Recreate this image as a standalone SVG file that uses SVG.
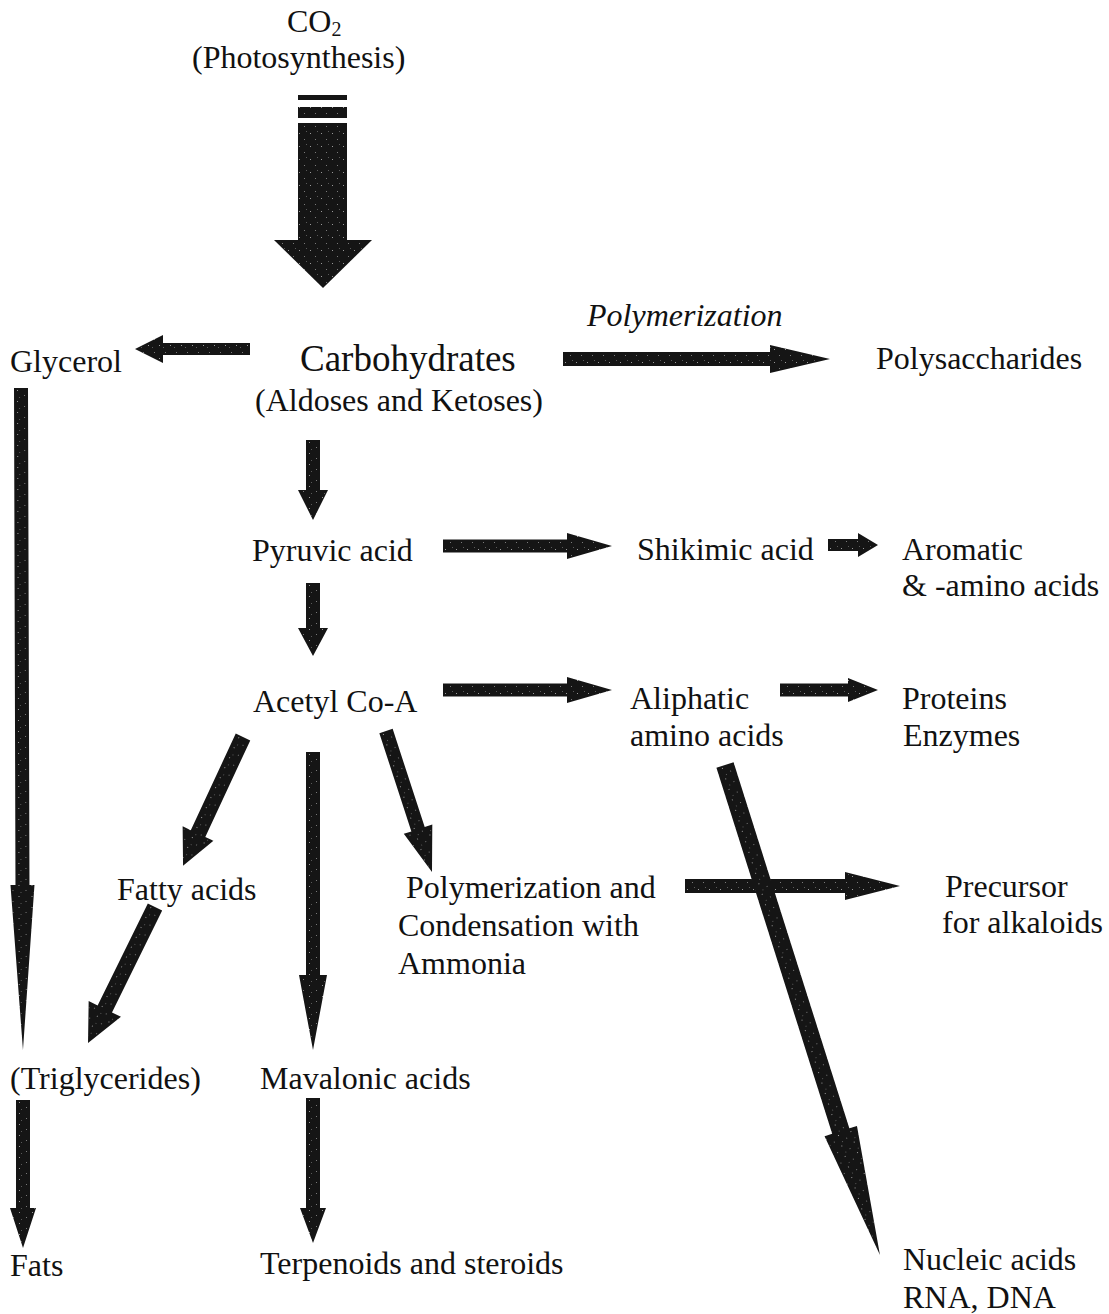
<svg xmlns="http://www.w3.org/2000/svg" width="1109" height="1314" viewBox="0 0 1109 1314">
<style>
  text { font-family: "Liberation Serif", "Times New Roman", serif; font-size: 32px; fill: #111; }
  .big { font-size: 37px; }
  .it { font-style: italic; }
  .arr { fill: url(#grain); }
</style>
<defs>
  <pattern id="grain" patternUnits="userSpaceOnUse" width="11" height="13">
    <rect width="11" height="13" fill="#151515"/>
    <rect x="2" y="3" width="1" height="1" fill="#9a9a9a"/>
    <rect x="7" y="9" width="1" height="1" fill="#7a7a7a"/>
    <rect x="9" y="1" width="1" height="1" fill="#5a5a5a"/>
  </pattern>
</defs>
<rect width="1109" height="1314" fill="#fff"/>

<g id="connectors">
  <g id="arrow-co2">
    <rect class="arr" x="298" y="95" width="49" height="5"/>
    <rect class="arr" x="298" y="107" width="49" height="11"/>
    <rect class="arr" x="298" y="123" width="49" height="118"/>
    <polygon class="arr" points="274,240 372,240 323,288"/>
  </g>
  <!-- Carbohydrates -> Glycerol -->
  <path class="arr" transform="translate(250,349) rotate(180)" d="M0,-6 L87,-6 L87,-14 L115,0 L87,14 L87,6 L0,6 Z"/>
  <!-- Carbohydrates -> Polysaccharides -->
  <path class="arr" transform="translate(563,359)" d="M0,-7 L207,-7 L207,-14 L267,0 L207,14 L207,7 L0,7 Z"/>
  <!-- Carbohydrates -> Pyruvic -->
  <path class="arr" transform="translate(313,440) rotate(90)" d="M0,-7 L50,-7 L50,-15 L80,0 L50,15 L50,7 L0,7 Z"/>
  <!-- Pyruvic -> Shikimic -->
  <path class="arr" transform="translate(443,546)" d="M0,-6.5 L124,-6.5 L124,-13 L169,0 L124,13 L124,6.5 L0,6.5 Z"/>
  <!-- Shikimic -> Aromatic -->
  <path class="arr" transform="translate(828,545)" d="M0,-6 L30,-6 L30,-12 L50,0 L30,12 L30,6 L0,6 Z"/>
  <!-- Pyruvic -> Acetyl -->
  <path class="arr" transform="translate(313,583) rotate(90)" d="M0,-7 L45,-7 L45,-15 L73,0 L45,15 L45,7 L0,7 Z"/>
  <!-- Acetyl -> Aliphatic -->
  <path class="arr" transform="translate(443,690)" d="M0,-6.5 L124,-6.5 L124,-13 L169,0 L124,13 L124,6.5 L0,6.5 Z"/>
  <!-- Aliphatic -> Proteins -->
  <path class="arr" transform="translate(780,690)" d="M0,-6.5 L68,-6.5 L68,-12 L98,0 L68,12 L68,6.5 L0,6.5 Z"/>
  <!-- Acetyl -> Fatty acids -->
  <path class="arr" transform="translate(243,737) rotate(114.97)" d="M0,-8 L106.5,-8 L106.5,-17 L142,0 L106.5,17 L106.5,8 L0,8 Z"/>
  <!-- Acetyl -> Mavalonic -->
  <path class="arr" transform="translate(313,752) rotate(90)" d="M0,-7 L223,-7 L223,-14 L298,0 L223,14 L223,7 L0,7 Z"/>
  <!-- Acetyl -> Polymerization -->
  <path class="arr" transform="translate(386,731) rotate(71.93)" d="M0,-7 L103.3,-7 L103.3,-15 L148.3,0 L103.3,15 L103.3,7 L0,7 Z"/>
  <!-- Glycerol -> Triglycerides -->
  <path class="arr" transform="translate(21,388) rotate(89.83)" d="M0,-7 L497,-7 L497,-12 L662,0 L497,12 L497,7 L0,7 Z"/>
  <!-- Fatty acids -> Triglycerides -->
  <path class="arr" transform="translate(155,907) rotate(116.22)" d="M0,-8 L113.6,-8 L113.6,-18 L151.6,0 L113.6,18 L113.6,8 L0,8 Z"/>
  <!-- Polymerization -> Precursor -->
  <path class="arr" transform="translate(685,886)" d="M0,-7 L160,-7 L160,-14 L215,0 L160,14 L160,7 L0,7 Z"/>
  <!-- Aliphatic -> Nucleic acids -->
  <path class="arr" transform="translate(725,765) rotate(72.45)" d="M0,-9 L383.9,-9 L383.9,-17 L513.9,0 L383.9,17 L383.9,9 L0,9 Z"/>
  <!-- Triglycerides -> Fats -->
  <path class="arr" transform="translate(23,1100) rotate(90)" d="M0,-7 L108,-7 L108,-13 L148,0 L108,13 L108,7 L0,7 Z"/>
  <!-- Mavalonic -> Terpenoids -->
  <path class="arr" transform="translate(313,1098) rotate(90)" d="M0,-7 L110,-7 L110,-13 L145,0 L110,13 L110,7 L0,7 Z"/>
</g>

<g id="co2"><text x="287" y="32">CO<tspan font-size="20" dy="4">2</tspan></text><text x="192" y="68">(Photosynthesis)</text></g>
<g id="polymerization-label"><text class="it" x="587" y="326">Polymerization</text></g>
<g id="glycerol"><text x="10" y="372">Glycerol</text></g>
<g id="carbohydrates"><text class="big" x="300" y="371">Carbohydrates</text><text x="255" y="411">(Aldoses and Ketoses)</text></g>
<g id="polysaccharides"><text x="876" y="369">Polysaccharides</text></g>
<g id="pyruvic"><text x="252" y="561">Pyruvic acid</text></g>
<g id="shikimic"><text x="637" y="560">Shikimic acid</text></g>
<g id="aromatic"><text x="902" y="560">Aromatic</text><text x="902" y="596">&amp; -amino acids</text></g>
<g id="acetyl"><text x="253" y="712">Acetyl Co-A</text></g>
<g id="aliphatic"><text x="630" y="709">Aliphatic</text><text x="630" y="746">amino acids</text></g>
<g id="proteins"><text x="902" y="709">Proteins</text><text x="903" y="746">Enzymes</text></g>
<g id="fatty"><text x="117" y="900">Fatty acids</text></g>
<g id="polycond"><text x="406" y="898">Polymerization and</text><text x="398" y="936">Condensation with</text><text x="398" y="974">Ammonia</text></g>
<g id="precursor"><text x="945" y="897">Precursor</text><text x="942" y="933">for alkaloids</text></g>
<g id="triglycerides"><text x="10" y="1089">(Triglycerides)</text></g>
<g id="mavalonic"><text x="260" y="1089">Mavalonic acids</text></g>
<g id="fats"><text x="10" y="1276">Fats</text></g>
<g id="terpenoids"><text x="260" y="1274">Terpenoids and steroids</text></g>
<g id="nucleic"><text x="903" y="1270">Nucleic acids</text><text x="903" y="1308">RNA, DNA</text></g>
</svg>
